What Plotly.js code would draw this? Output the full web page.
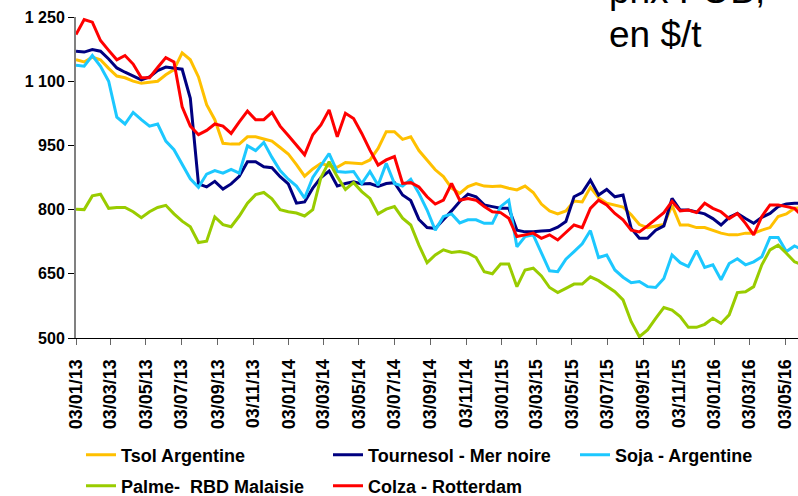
<!DOCTYPE html>
<html><head><meta charset="utf-8">
<script src="https://cdn.plot.ly/plotly-3.0.1.min.js"></script>
<style>html,body{margin:0;padding:0;background:#fff}#chart{width:798px;height:496px}</style>
</head><body><div id="chart"></div>
<script>
// Biweekly observations starting 03/01/2013
const startDate = '2013-01-03';
const stepMs = 14 * 24 * 3600 * 1000;

const tsolArgentine = [1150,1145,1156,1150,1130,1112,1108,1100,1095,1098,1100,1115,1127,1166,1150,1110,1045,1010,955,953,
  953,970,970,965,960,945,930,905,878,895,908,902,899,910,908,907,916,943,982,982,
  964,970,938,916,893,877,850,838,854,861,855,854,855,850,846,855,840,813,797,790,
  797,820,818,852,828,815,811,806,788,765,758,762,765,810,764,764,758,758,752,745,
  741,741,745,745,752,758,784,790,803,805];
const tournesolMerNoire = [1170,1168,1174,1170,1152,1131,1121,1112,1103,1110,1125,1133,1131,1128,1060,860,853,866,848,860,
  878,912,912,900,898,877,860,815,818,850,875,890,855,861,865,860,861,854,861,863,
  834,821,777,758,756,776,797,819,836,830,811,807,803,803,752,748,748,750,751,759,
  772,830,840,869,834,847,830,834,756,733,733,752,762,826,799,799,795,790,779,764,
  782,791,779,768,782,791,807,813,815,815];
const sojaArgentine = [1137,1135,1160,1135,1100,1016,1000,1027,1010,995,1000,960,940,905,872,852,883,891,885,894,
  885,949,938,957,922,891,871,855,827,875,904,931,889,887,889,861,889,857,908,861,
  855,871,838,799,752,784,790,769,776,776,768,768,807,822,713,737,741,700,657,655,
  684,702,720,751,688,694,659,642,629,632,620,618,639,694,676,667,704,665,671,636,
  674,685,671,678,690,735,735,702,715,706];
const palmeRbdMalaisie = [801,800,832,836,803,805,805,795,781,795,805,810,790,773,760,723,726,783,765,760,
  785,815,835,840,825,800,795,792,785,800,875,912,877,847,863,842,826,790,801,807,
  780,764,717,676,694,706,700,702,698,688,655,650,673,673,620,659,663,645,618,606,
  616,626,626,643,634,620,608,589,538,503,519,546,571,565,550,525,525,532,546,534,
  554,606,608,620,671,706,717,698,678,671];
const colzaRotterdam = [1209,1244,1238,1195,1172,1150,1160,1140,1108,1108,1132,1155,1145,1040,995,975,985,1000,995,978,
  1005,1030,1010,1010,1027,995,973,950,928,975,998,1033,970,1025,1013,978,939,904,916,924,
  861,863,853,830,813,822,861,822,826,822,807,795,793,780,737,741,745,733,741,729,
  746,764,758,803,822,811,791,776,752,748,762,777,793,819,797,799,793,815,803,795,
  779,791,768,741,784,811,811,807,803,784];

const seriesNames = ['Tsol Argentine','Tournesol - Mer noire','Soja - Argentine','Palme-&nbsp; RBD Malaisie','Colza - Rotterdam'];
const seriesColors = ['#FFC000','#000080','#1CC8FF','#99CC00','#FF0000'];

const tickDates = ['2013-01-03','2013-03-03','2013-05-03','2013-07-03','2013-09-03','2013-11-03',
  '2014-01-03','2014-03-03','2014-05-03','2014-07-03','2014-09-03','2014-11-03',
  '2015-01-03','2015-03-03','2015-05-03','2015-07-03','2015-09-03','2015-11-03',
  '2016-01-03','2016-03-03','2016-05-03'];
const tickLabels = ['03/01/13','03/03/13','03/05/13','03/07/13','03/09/13','03/11/13',
  '03/01/14','03/03/14','03/05/14','03/07/14','03/09/14','03/11/14',
  '03/01/15','03/03/15','03/05/15','03/07/15','03/09/15','03/11/15',
  '03/01/16','03/03/16','03/05/16'];
const yTickVals = [500,650,800,950,1100,1250];
const yTickLabels = ['500','650','800','950','1 100','1 250'];

const allSeries = [tsolArgentine, tournesolMerNoire, sojaArgentine, palmeRbdMalaisie, colzaRotterdam];
const legendIds = ['legend','legend2','legend3','legend4','legend5'];

const traces = allSeries.map((vals, i) => ({
  type: 'scatter', mode: 'lines',
  x0: startDate, dx: stepMs,
  y: vals,
  name: seriesNames[i],
  legend: legendIds[i],
  line: {color: seriesColors[i], width: 3},
  hoverinfo: 'skip'
}));

const FONT = 'Arial, "Liberation Sans", sans-serif';
const W = 798, H = 496;
function mkLegend(lineStartPx, rowCenterPx) {
  return {
    orientation: 'h', xanchor: 'left', yanchor: 'middle',
    x: (lineStartPx - 5) / W, y: (H - rowCenterPx) / H,
    font: {family: FONT, size: 18, weight: 'bold', color: '#000'},
    bgcolor: 'rgba(0,0,0,0)', borderwidth: 0
  };
}

const layout = {
  width: W, height: H,
  margin: {l: 0, r: 0, t: 0, b: 0, autoexpand: false},
  paper_bgcolor: '#fff', plot_bgcolor: '#fff',
  font: {family: FONT, color: '#000'},
  showlegend: true,
  xaxis: {
    type: 'date', domain: [76 / W, 1], range: ['2013-01-03', '2016-05-25'],
    tickmode: 'array', tickvals: tickDates, ticktext: tickLabels, tickangle: -90,
    ticks: 'outside', ticklen: 6, tickcolor: '#666', tickwidth: 1, ticklabelstandoff: 7,
    showline: true, linecolor: '#000', linewidth: 1,
    showgrid: false, zeroline: false,
    tickfont: {family: FONT, size: 18, weight: 'bold', color: '#000'}
  },
  yaxis: {
    domain: [158 / H, 479 / H], range: [500, 1250],
    tickmode: 'array', tickvals: yTickVals, ticktext: yTickLabels,
    ticks: 'outside', ticklen: 6, tickcolor: '#000', tickwidth: 1,
    showline: true, linecolor: '#808080', linewidth: 2,
    showgrid: false, zeroline: false,
    tickfont: {family: FONT, size: 16, weight: 'bold', color: '#000'}
  },
  legend: mkLegend(86, 455),
  legend2: mkLegend(333, 455),
  legend3: mkLegend(580, 455),
  legend4: mkLegend(86, 486),
  legend5: mkLegend(333, 486),
  annotations: [
    {xref: 'paper', yref: 'paper', x: 607 / W, xanchor: 'left', y: (H + 9.7) / H, yanchor: 'middle',
     text: 'prix FOB,', showarrow: false, font: {family: FONT, size: 37, color: '#000'}},
    {xref: 'paper', yref: 'paper', x: 607 / W, xanchor: 'left', y: (H - 34.5) / H, yanchor: 'middle',
     text: 'en $/t', showarrow: false, font: {family: FONT, size: 37, color: '#000'}}
  ]
};

Plotly.newPlot('chart', traces, layout, {displayModeBar: false, staticPlot: true});
</script>
</body></html>
